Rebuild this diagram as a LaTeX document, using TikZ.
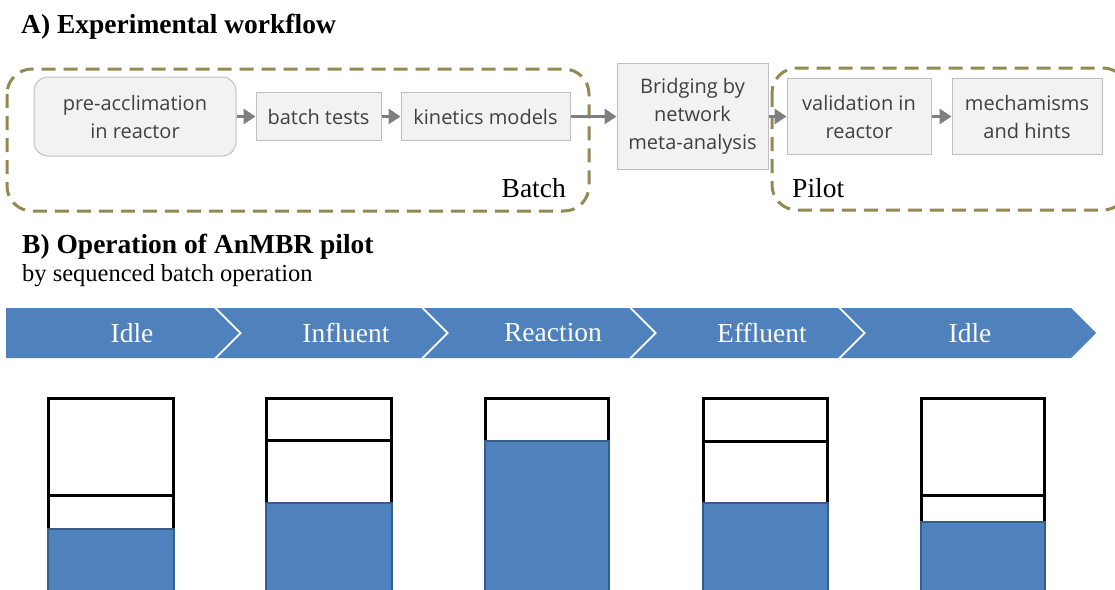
\documentclass[tikz,border=0pt]{standalone}
\usepackage{fontspec}
\setmainfont{Liberation Serif}
\newfontfamily\boxfont{Open Sans}
\usetikzlibrary{arrows.meta}
\definecolor{boxfill}{HTML}{F2F2F2}
\definecolor{boxline}{HTML}{BFBFBF}
\definecolor{boxtext}{HTML}{404040}
\definecolor{olivedash}{HTML}{938953}
\definecolor{arrowgray}{HTML}{7F7F7F}
\definecolor{chevblue}{HTML}{4F81BD}
\definecolor{waterline}{HTML}{385D8A}
\begin{document}
\begin{tikzpicture}[x=1pt,y=-1pt,
  wbox/.style={draw=boxline, fill=boxfill, line width=1pt, text=boxtext,
    font=\boxfont\fontsize{20}{28}\selectfont, align=center, inner sep=0pt},
  flow/.style={draw=arrowgray, line width=3pt, -{Triangle[length=12pt,width=15pt]}},
  groupbox/.style={draw=olivedash, line width=3pt, dash pattern=on 14pt off 8pt, rounded corners=25pt},
  grouplabel/.style={anchor=base west, inner sep=0pt, font=\fontsize{27.5}{30}\selectfont},
  heading/.style={anchor=base west, inner sep=0pt, font=\bfseries\fontsize{27.5}{30}\selectfont},
  chevtext/.style={text=white, inner sep=0pt, font=\fontsize{27.5}{30}\selectfont},
  tankwall/.style={draw=black, line width=3pt},
  water/.style={fill=chevblue, draw=waterline, line width=2pt}
]
\useasboundingbox (0,0) rectangle (1115,589);
\clip (0,0) rectangle (1115,589);

% ---------- A) workflow ----------
\node[heading] (ta) at (21,33) {A) Experimental workflow};

\draw[groupbox] (7,69) rectangle (589,211);
\draw[groupbox] (772,68) rectangle (1128,210);
\node[grouplabel, anchor=base east] (lbatch) at (566,197) {Batch};
\node[grouplabel] (lpilot) at (792,197) {Pilot};

\node[wbox, rounded corners=14pt, minimum width=202pt, minimum height=79pt] (pre) at (135,116.5) {pre-acclimation\\in reactor};
\node[wbox, minimum width=125pt, minimum height=48pt] (bt) at (318.5,116.5) {batch tests};
\node[wbox, minimum width=169pt, minimum height=48pt] (km) at (485.5,116.5) {kinetics models};
\node[wbox, minimum width=151pt, minimum height=106pt] (br) at (692.5,116) {Bridging by\\network\\meta-analysis};
\node[wbox, minimum width=144pt, minimum height=76pt] (va) at (859,116.5) {validation in\\reactor};
\node[wbox, minimum width=150pt, minimum height=76pt] (me) at (1027,116.5) {mechamisms\\and hints};

\draw[flow] (pre.east) -- (bt.west);
\draw[flow] (bt.east) -- (km.west);
\draw[flow] (km.east) -- (br.west |- km.east);
\draw[flow] (br.east |- va.west) -- (va.west);
\draw[flow] (va.east) -- (me.west);

% ---------- B) operation ----------
\node[heading] (tb) at (22,253) {B) Operation of AnMBR pilot};
\node[anchor=base west, inner sep=0pt, font=\fontsize{24.5}{28}\selectfont] (sub) at (22,281) {by sequenced batch operation};

\foreach \L/\R/\N in {6/214/0, 217/421/25, 424/629/25, 632/838/25, 841/1071/25}
  \fill[chevblue] (\L,308) -- (\R,308) -- (\R+25,333) -- (\R,358) -- (\L,358) -- (\L+\N,333) -- cycle;

\node[chevtext] (c1) at (132,333) {Idle};
\node[chevtext] (c2) at (346,333) {Influent};
\node[chevtext] (c3) at (553,333) {Reaction};
\node[chevtext] (c4) at (762,333) {Effluent};
\node[chevtext] (c5) at (970,333) {Idle};

% tanks
\foreach \l/\r/\d/\w in {48/173/495/529, 266/391/440/503, 485/608/441/441, 703/827/441/503, 921/1044/495/522} {
  \draw[tankwall] (\l,600) -- (\l,398) -- (\r,398) -- (\r,600);
  \draw[tankwall] (\l,\d) -- (\r,\d);
  \draw[water] (\l,600) rectangle (\r+1,\w);
}
\end{tikzpicture}
\end{document}
